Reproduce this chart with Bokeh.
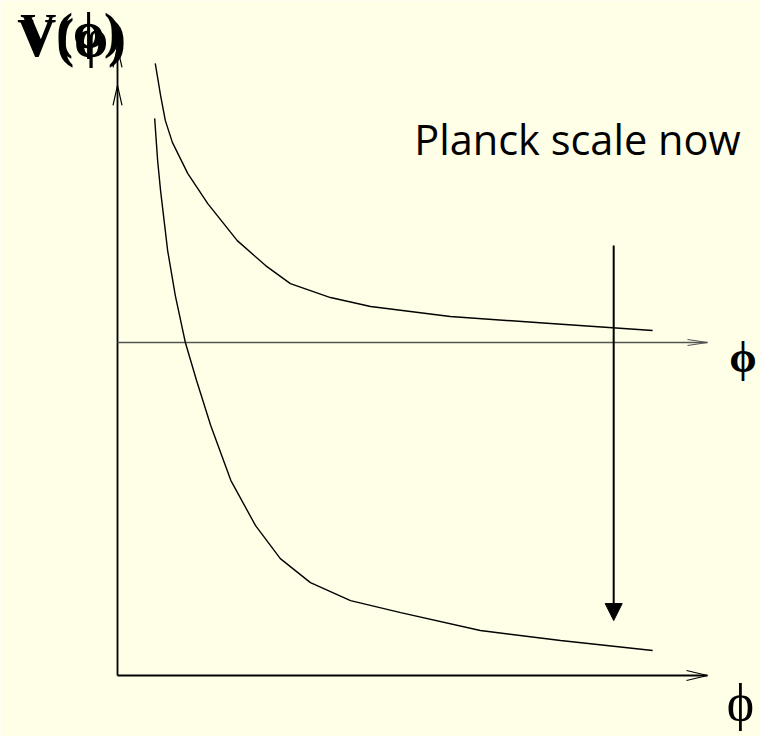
from bokeh.plotting import figure
from bokeh.models import Range1d, Arrow, NormalHead
from bokeh.core.properties import value
from bokeh.embed import file_html
from bokeh.resources import INLINE

# Potential V(phi) today (upper curve) and after the Planck scale shifts (lower curve)
phi_now = [0.64, 0.73, 0.81, 0.93, 1.19, 1.53, 2.03, 2.51, 2.93, 3.61, 4.29, 5.64, 7.34, 9.07]
v_now = [18.38, 17.42, 16.67, 16.01, 15.08, 14.17, 13.06, 12.31, 11.77, 11.35, 11.08, 10.78, 10.57, 10.36]

phi_later = [0.63, 0.68, 0.73, 0.80, 0.85, 0.98, 1.15, 1.34, 1.58, 1.92, 2.34, 2.76, 3.27, 3.95, 4.80, 6.15, 7.51, 9.07]
v_later = [16.73, 15.47, 14.56, 13.51, 12.76, 11.41, 10.00, 8.86, 7.51, 5.86, 4.50, 3.51, 2.79, 2.25, 1.89, 1.35, 1.05, 0.75]

# axis layout (data units)
upper_axis_v = 10.0
axis_end_phi = 10.0
v_axis_top = 18.86
v_axis_second_tip = 17.72
shift_phi = 8.41
shift_from, shift_to = 12.91, 1.65

BG = "#FFFFE8"
W, H = 760, 736
# pixel scale of the drawing: origin at (117, 675), 59 px per phi unit, 33.3 px per V unit
X0, Y0, SX, SY = 117, 675, 59.0, 33.3

p = figure(width=W, height=H, output_backend="svg", toolbar_location=None,
           x_range=Range1d(-X0 / SX, (W - X0) / SX),
           y_range=Range1d(-(H - Y0) / SY, Y0 / SY),
           x_axis_location=None, y_axis_location=None, min_border=0)
p.xgrid.visible = False
p.ygrid.visible = False
p.outline_line_color = None
p.background_fill_color = BG
p.border_fill_color = BG

# vertical axis with two open arrow heads
p.line([0, 0], [0, v_axis_top], line_color="black", line_width=1.8)
for tip in (v_axis_top, v_axis_second_tip):
    p.line([-4.5 / SX, 0, 4.5 / SX], [tip - 20 / SY, tip, tip - 20 / SY],
           line_color="black", line_width=1.2)

# horizontal axes
p.line([0, axis_end_phi], [upper_axis_v, upper_axis_v], line_color="#555555", line_width=1.3)
p.line([axis_end_phi - 20 / SX, axis_end_phi, axis_end_phi - 20 / SX],
       [upper_axis_v + 3 / SY, upper_axis_v, upper_axis_v - 3 / SY],
       line_color="#555555", line_width=1.2)
p.line([0, axis_end_phi], [0, 0], line_color="black", line_width=1.8)
p.line([axis_end_phi - 21 / SX, axis_end_phi, axis_end_phi - 21 / SX],
       [5 / SY, 0, -5 / SY], line_color="black", line_width=1.2)

# potential curves
p.line(phi_now, v_now, line_color="black", line_width=1.4)
p.line(phi_later, v_later, line_color="black", line_width=1.4)

# shift arrow
p.add_layout(Arrow(x_start=shift_phi, y_start=shift_from, x_end=shift_phi, y_end=shift_to,
                   line_color="black", line_width=2,
                   end=NormalHead(size=17, fill_color="black", line_color="black")))

# labels
p.text(x=[5.03], y=[16.1], text=["Planck scale now"], text_font=value("Open Sans"),
       text_font_size="41.5px", text_color="black", text_baseline="alphabetic")

serif = value("Liberation Serif")
p.text(x=[-1.7], y=[19.15], text=["V(φ)"], text_font=serif, text_font_style="bold",
       text_font_size="54px", text_baseline="alphabetic")
p.text(x=[-1.65], y=[19.35], text=["V(ϕ)"], text_font=serif, text_font_style="bold",
       text_font_size="50px", text_baseline="alphabetic")

p.text(x=[10.6], y=[9.55], text=["ϕ"], text_font=serif, text_font_style="bold",
       text_font_size="44px", text_align="center", text_baseline="alphabetic")
p.text(x=[10.56], y=[-0.8], text=["ϕ"], text_font=serif,
       text_font_size="52px", text_align="center", text_baseline="alphabetic")

open("out.html", "w").write(file_html(p, INLINE))
